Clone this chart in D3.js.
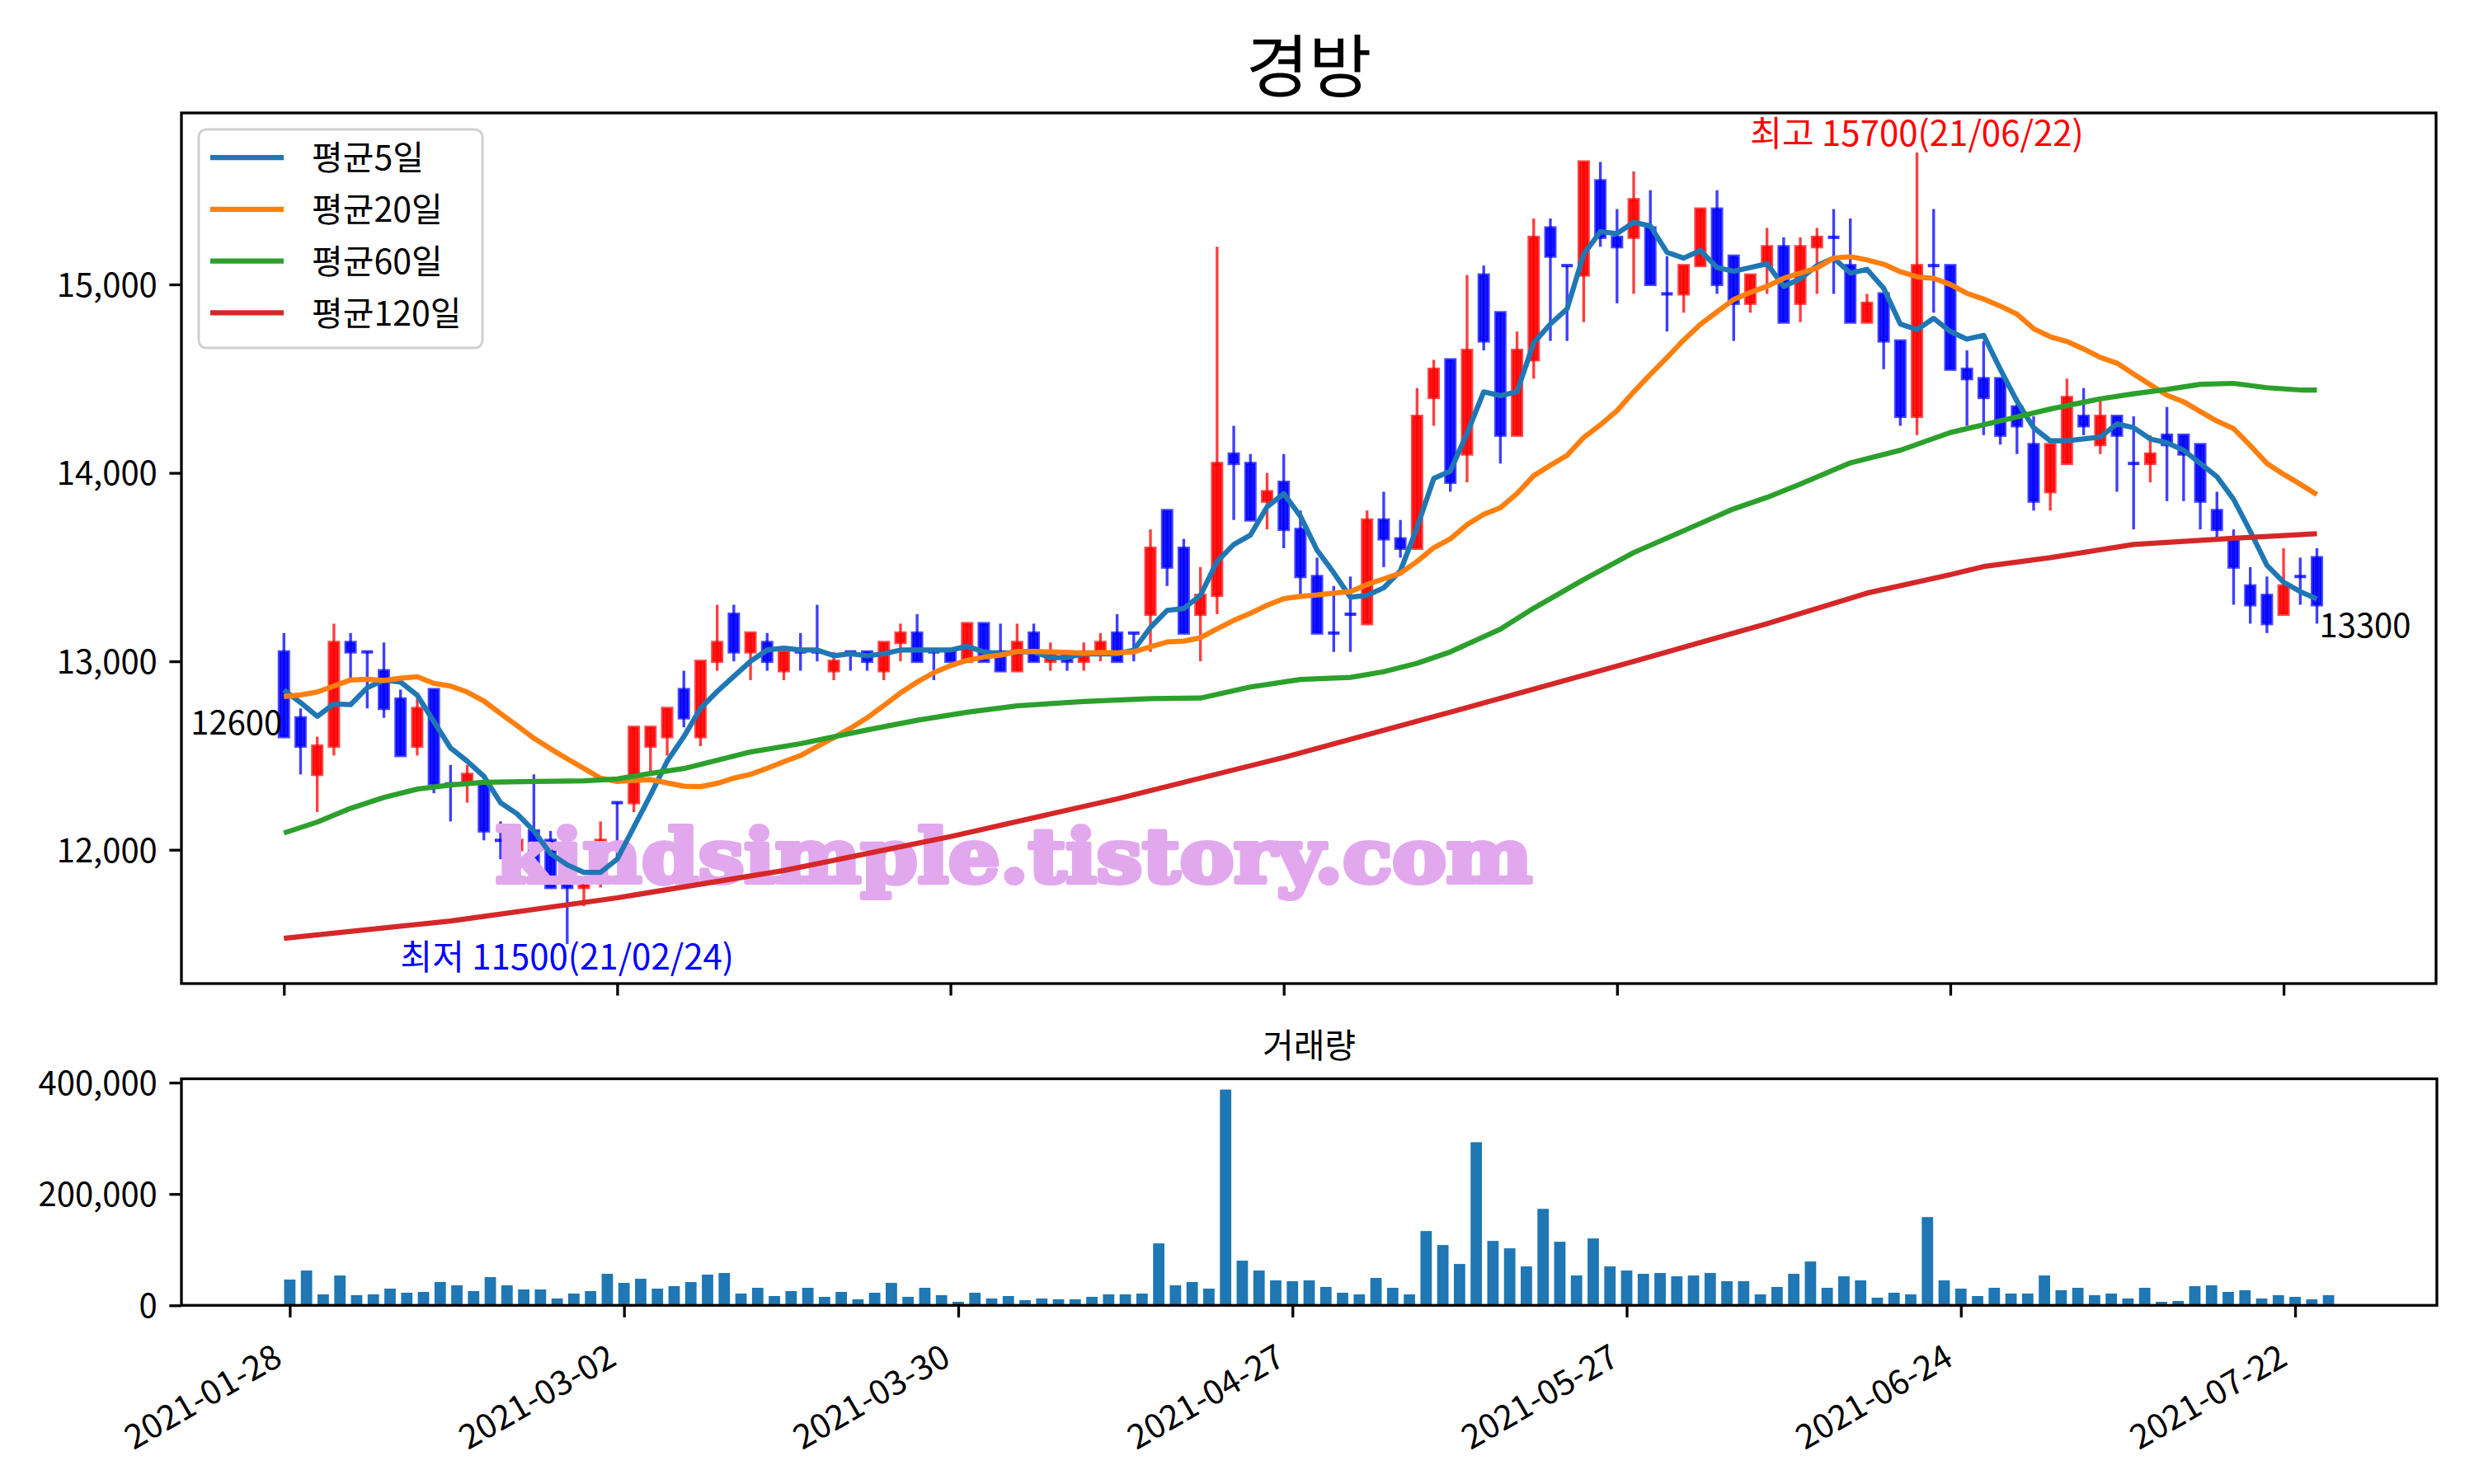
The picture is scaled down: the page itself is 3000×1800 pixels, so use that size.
<!DOCTYPE html>
<html><head><meta charset="utf-8">
<script src="https://cdn.jsdelivr.net/npm/d3@7"></script>
<style>body{margin:0;background:#fff}</style>
</head><body>
<svg id="c" width="3000" height="1800"></svg>
<script>
// ---------------- data ----------------
const chartTitle = "경방";
const volTitle = "거래량";
const tickIdx = [0, 20, 40, 60, 80, 100, 120];
const tickLabels = ["2021-01-28","2021-03-02","2021-03-30","2021-04-27","2021-05-27","2021-06-24","2021-07-22"];
const priceTicks = [12000, 13000, 14000, 15000];
const volTicks = [0, 200000, 400000];
const legendLabels = ["평균5일","평균20일","평균60일","평균120일"];
const maxDate = "21/06/22";
const minDate = "21/02/24";
const watermark = "kindsimple.tistory.com";

const openP = [13050,12700,12400,12550,13100,13050,12950,12800,12550,12850,
12350,12350,12350,12050,12000,12100,12050,11850,11800,11850,
12250,12250,12550,12600,12850,12600,13000,13250,13050,13100,
12950,13050,13050,12950,13050,13050,12950,13100,13150,13050,
13050,13000,13200,13050,12950,13150,13000,13050,13000,13050,
13150,13150,13250,13800,13600,13250,13350,14100,14050,13850,
13950,13700,13450,13150,13250,13200,13750,13650,13600,14400,
14600,14100,15050,14850,14200,14600,15300,15100,15050,15550,
15250,15250,15300,14950,14950,15100,15400,15150,14900,15100,
15200,14900,15200,15250,15100,14800,14950,14700,14300,15100,
15100,14550,14500,14500,14350,14150,13900,14050,14300,14150,
14300,14050,14050,14200,14200,14150,13800,13650,13400,13350,
13250,13450,13550];
const highP = [13150,12750,12600,13200,13150,13050,13100,12850,12800,12850,
12450,12450,12350,12150,12050,12400,12100,11900,11850,12150,
12250,12650,12650,12750,12950,13000,13300,13300,13150,13150,
13050,13150,13300,13050,13050,13050,13100,13200,13250,13050,
13050,13200,13200,13200,13200,13200,13100,13050,13100,13150,
13250,13150,13700,13800,13650,13500,15200,14250,14100,14000,
14100,13800,13550,13400,13450,13800,13900,13750,14450,14600,
14600,15050,15100,14850,14750,15350,15350,15100,15650,15650,
15400,15600,15500,15150,15100,15400,15500,15150,15050,15300,
15250,15250,15300,15400,15350,14950,14950,14700,15700,15400,
15100,14650,14700,14500,14400,14300,14150,14500,14450,14400,
14300,14300,14200,14350,14200,14150,13900,13700,13500,13450,
13600,13550,13600];
const lowP = [12600,12400,12200,12500,12900,12750,12700,12500,12500,12300,
12150,12250,12050,11950,11950,11900,11800,11500,11700,11800,
11950,12200,12400,12500,12650,12550,12950,13000,12900,12950,
12900,12950,13000,12900,12950,12950,12900,13000,13000,12900,
13000,13000,13000,12950,12950,13000,12950,12950,12950,13000,
13000,13000,13050,13400,13150,13000,13250,13750,13750,13700,
13600,13350,13150,13050,13050,13200,13500,13550,13600,14250,
13900,13950,14650,14050,14200,14500,14700,14700,14800,15200,
14900,14950,15000,14750,14850,15100,14950,14700,14850,14950,
14800,14800,14950,14950,14800,14800,14550,14250,14200,14850,
14550,14250,14200,14150,14100,13800,13800,14050,14200,14100,
13900,13700,13950,13850,13850,13700,13650,13300,13200,13150,
13250,13300,13200];
const closeP = [12600,12550,12550,13100,13050,13050,12750,12500,12750,12350,
12350,12400,12100,12050,12050,11900,11800,11800,11850,12050,
12250,12650,12650,12750,12700,13000,13100,13050,13150,13000,
13050,13050,13050,13000,13050,13000,13100,13150,13000,13050,
13000,13200,13000,12950,13100,13000,13050,13000,13050,13100,
13000,13150,13600,13500,13150,13350,14050,14050,13750,13900,
13700,13450,13150,13150,13250,13750,13650,13600,14300,14550,
13950,14650,14700,14200,14650,15250,15150,15100,15650,15250,
15200,15450,15000,14950,15100,15400,15000,14900,15050,15200,
14800,15200,15250,15250,14800,14900,14700,14300,15100,15100,
14550,14500,14400,14200,14250,13850,14150,14400,14250,14300,
14200,14050,14100,14150,14100,13850,13700,13500,13300,13200,
13400,13450,13300];
const volume = [46290,62530,19700,53670,18220,19700,30040,22650,24130,41850,
35950,25600,50720,35950,28560,28560,12310,21170,25600,56630,
40380,47760,30040,34470,41850,55150,58100,21170,31510,16740,
25600,31510,15260,24130,10830,22650,40380,15260,31510,18220,
6400,22650,12310,16740,9360,12310,10830,10830,15260,19700,
19700,21170,111280,35950,41850,30040,387520,80260,62530,44810,
43330,44810,32990,22650,19700,49240,31510,19700,133440,108330,
74350,292980,115710,102420,69920,173320,114240,53670,120150,69920,
62530,56630,58100,52190,53670,58100,43330,43330,19700,32990,
56630,78780,31510,52190,44810,13790,22650,19700,158550,44810,
30040,16740,31510,21170,21170,53670,27080,31510,18220,21170,
12310,31510,6400,7880,34470,35950,24130,27080,12310,18220,
15260,10830,18220];
const ma5Head = [12847,12781,12708,12774];
const ma20Head = [12813,12822,12837,12869,12901,12905,12898,12910,12918,12883,
12869,12837,12789,12723,12658,12592,12536,12483,12432];
const ma60Idx = [0,2,4,6,8,10,12,15,18,20,22,24,28,31,35,38,41,44,48,52,55,58,61,64,66,68,70,73,75,78,81,84,87,89,91,94,97,100,103,106,109,111,113,115,117,119,121,122];
const ma60Val = [12089,12147,12220,12278,12322,12344,12358,12362,12366,12376,12405,12431,12519,12563,12636,12687,12730,12764,12787,12802,12805,12864,12904,12915,12945,12990,13050,13171,13282,13434,13577,13693,13809,13870,13941,14053,14120,14214,14276,14339,14393,14420,14443,14470,14475,14452,14440,14440];
const ma120Idx = [0,10,20,30,40,50,60,70,81,89,95,100,102,106,111,117,122];
const ma120Val = [11530,11622,11745,11890,12070,12270,12490,12730,13000,13200,13362,13460,13503,13550,13620,13653,13677];

// ---------------- drawing ----------------
const FONT = '"Noto Sans CJK KR","Noto Sans",sans-serif';
const svg = d3.select("#c");
svg.append("rect").attr("width",3000).attr("height",1800).attr("fill","#fff");
const n = closeP.length;
const M = {l:220, r:2954, t:137, b:1193};
const V = {l:220, r:2955, t:1308.5, b:1583.3};
const lo = d3.min(lowP), hi = d3.max(highP), pr = hi - lo;
const x = d3.scaleLinear().domain([-0.05*n, n*1.05]).range([M.l, M.r]);
const y = d3.scaleLinear().domain([lo-0.05*pr, hi+0.05*pr]).range([M.b, M.t]);
const bw = 0.7, span = (n-1)+bw;
const vx = d3.scaleLinear().domain([-bw/2-0.05*span, n-1+bw/2+0.05*span]).range([V.l, V.r]);
const vy = d3.scaleLinear().domain([0, d3.max(volume)*1.05]).range([V.b, V.t]);

const UP="#ff0000", DN="#0000ff";
const mainG = svg.append("g");
const idx = d3.range(n);
// wicks
mainG.selectAll("line.wick").data(idx).join("line")
  .attr("x1",i=>x(i)).attr("x2",i=>x(i))
  .attr("y1",i=>y(highP[i])).attr("y2",i=>y(lowP[i]))
  .attr("stroke",i=>closeP[i]>openP[i]?UP:DN).attr("stroke-opacity",0.75).attr("stroke-width",3.4);
// bodies
const bodyIdx = idx.filter(i=>openP[i]!==closeP[i]);
mainG.selectAll("rect.body").data(bodyIdx).join("rect")
  .attr("x",i=>x(i)-5.5).attr("width",11)
  .attr("y",i=>y(Math.max(openP[i],closeP[i])))
  .attr("height",i=>Math.abs(y(openP[i])-y(closeP[i])))
  .attr("fill",i=>closeP[i]>openP[i]?UP:DN).attr("fill-opacity",0.9)
  .attr("stroke",i=>closeP[i]>openP[i]?UP:DN).attr("stroke-opacity",0.72).attr("stroke-width",4);
const dojiIdx = idx.filter(i=>openP[i]===closeP[i]);
mainG.selectAll("line.doji").data(dojiIdx).join("line")
  .attr("x1",i=>x(i)-7).attr("x2",i=>x(i)+7)
  .attr("y1",i=>y(openP[i])).attr("y2",i=>y(openP[i]))
  .attr("stroke",DN).attr("stroke-opacity",0.8).attr("stroke-width",4);

// watermark
svg.append("text").attr("x",601).attr("y",1070)
  .attr("textLength",1257).attr("lengthAdjust","spacingAndGlyphs")
  .attr("font-family",'"DejaVu Serif",serif').attr("font-weight","bold").attr("font-size",90)
  .attr("fill","#e2a8ee").attr("stroke","#e2a8ee").attr("stroke-width",6).attr("stroke-linejoin","round")
  .text(watermark);

// moving averages
const ma5 = idx.map(i=> i<4 ? ma5Head[i] : d3.mean(closeP.slice(i-4,i+1)));
const ma20 = idx.map(i=> i<19 ? ma20Head[i] : d3.mean(closeP.slice(i-19,i+1)));
const series = [
  {pts: idx.map(i=>[i,ma5[i]]), c:"#1f77b4"},
  {pts: idx.map(i=>[i,ma20[i]]), c:"#ff7f0e"},
  {pts: ma60Idx.map((d,k)=>[d,ma60Val[k]]), c:"#2ca02c"},
  {pts: ma120Idx.map((d,k)=>[d,ma120Val[k]]), c:"#d62728"}
];
const line = d3.line().x(d=>x(d[0])).y(d=>y(d[1]));
series.forEach(s=>{
  svg.append("path").attr("d",line(s.pts)).attr("fill","none")
    .attr("stroke",s.c).attr("stroke-width",6.25).attr("stroke-linejoin","round");
});

// annotations
const iMax = d3.maxIndex(highP), iMin = d3.minIndex(lowP);
svg.append("text").attr("x",x(iMax)).attr("y",y(highP[iMax])-8).attr("text-anchor","middle")
  .attr("font-family",FONT).attr("font-size",42).attr("fill","#ff0000")
  .text(`최고 ${highP[iMax]}(${maxDate})`);
svg.append("text").attr("x",x(iMin)).attr("y",y(lowP[iMin])+31).attr("text-anchor","middle")
  .attr("font-family",FONT).attr("font-size",42).attr("fill","#0000ff")
  .text(`최저 ${lowP[iMin]}(${minDate})`);
svg.append("text").attr("x",x(0)-2).attr("y",y(closeP[0])-3).attr("text-anchor","end")
  .attr("font-family",FONT).attr("font-size",40).attr("fill","#000").text(closeP[0]);
svg.append("text").attr("x",x(n-1)+3).attr("y",y(closeP[n-1])+39).attr("text-anchor","start")
  .attr("font-family",FONT).attr("font-size",40).attr("fill","#000").text(closeP[n-1]);

// axes frames
function styleAxis(g){
  g.select(".domain").remove();
  g.selectAll(".tick line").attr("stroke","#000").attr("stroke-width",3.3);
  g.selectAll(".tick text").attr("font-family",FONT).attr("font-size",40).attr("fill","#000");
}
const tk=14.6;
svg.append("g").attr("transform",`translate(${M.l},0)`)
  .call(d3.axisLeft(y).tickValues(priceTicks).tickFormat(d3.format(",")).tickSize(tk).tickPadding(tk))
  .call(styleAxis).call(g=>g.selectAll(".tick text").attr("dy","0.36em"));
svg.append("g").attr("transform",`translate(0,${M.b})`)
  .call(d3.axisBottom(x).tickValues(tickIdx).tickFormat("").tickSize(tk))
  .call(styleAxis);
svg.append("rect").attr("x",M.l).attr("y",M.t).attr("width",M.r-M.l).attr("height",M.b-M.t)
  .attr("fill","none").attr("stroke","#000").attr("stroke-width",3.3);

// legend
const lg = svg.append("g");
lg.append("rect").attr("x",241).attr("y",157).attr("width",344).attr("height",265).attr("rx",9)
  .attr("fill","#fff").attr("fill-opacity",0.8).attr("stroke","#d0d0d0").attr("stroke-width",3);
legendLabels.forEach((lab,k)=>{
  const yy = 191 + k*62.8;
  lg.append("line").attr("x1",255).attr("x2",344).attr("y1",yy).attr("y2",yy)
    .attr("stroke",series[k].c).attr("stroke-width",6.25);
  lg.append("text").attr("x",378).attr("y",yy).attr("dy","0.37em")
    .attr("font-family",FONT).attr("font-size",41).attr("fill","#000").text(lab);
});

// title
svg.append("text").attr("x",(M.l+M.r)/2).attr("y",111).attr("text-anchor","middle")
  .attr("font-family",FONT).attr("font-size",83).attr("fill","#000").text(chartTitle);

// volume panel
svg.append("g").selectAll("rect").data(idx).join("rect")
  .attr("x",i=>vx(i-0.34)).attr("width",vx(0.68)-vx(0))
  .attr("y",i=>vy(volume[i])).attr("height",i=>V.b-vy(volume[i]))
  .attr("fill","#1f77b4");
svg.append("g").attr("transform",`translate(${V.l},0)`)
  .call(d3.axisLeft(vy).tickValues(volTicks).tickFormat(d3.format(",")).tickSize(tk).tickPadding(tk))
  .call(styleAxis).call(g=>g.selectAll(".tick text").attr("dy","0.36em"));
svg.append("g").attr("transform",`translate(0,${V.b})`)
  .call(d3.axisBottom(vx).tickValues(tickIdx).tickFormat("").tickSize(tk))
  .call(styleAxis);
tickIdx.forEach((t,k)=>{
  svg.append("text").attr("transform",`translate(${vx(t)-7},1654) rotate(-30)`)
    .attr("text-anchor","end").attr("font-family",FONT).attr("font-size",41).attr("fill","#000")
    .text(tickLabels[k]);
});
svg.append("rect").attr("x",V.l).attr("y",V.t).attr("width",V.r-V.l).attr("height",V.b-V.t)
  .attr("fill","none").attr("stroke","#000").attr("stroke-width",3.3);
svg.append("text").attr("x",(V.l+V.r)/2).attr("y",1283).attr("text-anchor","middle")
  .attr("font-family",FONT).attr("font-size",41).attr("fill","#000").text(volTitle);
</script>
</body></html>
